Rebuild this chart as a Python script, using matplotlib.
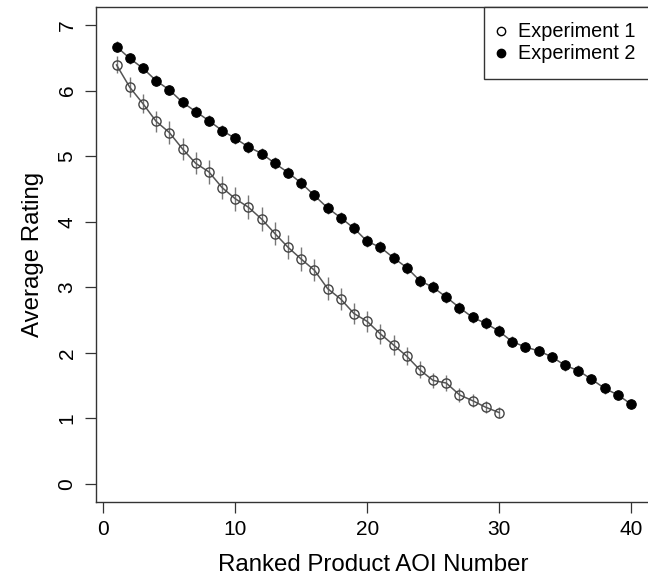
"""
Average rating by ranked product AOI number, two experiments.
"""
import matplotlib
matplotlib.use("Agg")
import matplotlib.pyplot as plt
from matplotlib.lines import Line2D

plt.rcParams['font.family'] = ['Liberation Sans', 'DejaVu Sans']

# Experiment 1 (open circles), AOI 1..30
exp1_rank = list(range(1, 31))
exp1_mean = [6.39, 6.05, 5.80, 5.53, 5.36, 5.11, 4.89, 4.76, 4.52, 4.35,
             4.22, 4.04, 3.82, 3.61, 3.43, 3.26, 2.98, 2.82, 2.60, 2.48,
             2.29, 2.12, 1.95, 1.74, 1.58, 1.54, 1.36, 1.27, 1.17, 1.09]
exp1_err = [0.13, 0.15, 0.15, 0.16, 0.17, 0.17, 0.17, 0.18, 0.18, 0.18,
            0.18, 0.18, 0.18, 0.18, 0.18, 0.17, 0.17, 0.17, 0.16, 0.16,
            0.15, 0.15, 0.14, 0.13, 0.12, 0.12, 0.11, 0.10, 0.09, 0.08]

# Experiment 2 (filled circles), AOI 1..40
exp2_rank = list(range(1, 41))
exp2_mean = [6.67, 6.49, 6.34, 6.15, 6.01, 5.82, 5.68, 5.54, 5.39, 5.27,
             5.14, 5.04, 4.89, 4.75, 4.59, 4.40, 4.21, 4.06, 3.90, 3.70,
             3.61, 3.45, 3.30, 3.10, 3.00, 2.85, 2.69, 2.54, 2.45, 2.33,
             2.17, 2.09, 2.03, 1.94, 1.81, 1.73, 1.60, 1.46, 1.36, 1.22]
exp2_err = [0.08] * 10 + [0.09] * 20 + [0.08] * 10

series_labels = ['Experiment 1', 'Experiment 2']
x_ticks = [0, 10, 20, 30, 40]
y_ticks = [0, 1, 2, 3, 4, 5, 6, 7]

fig = plt.figure(figsize=(6.48, 5.81), dpi=100)
# the original box runs a few pixels past the right edge of the image
ax = fig.add_axes([96 / 648, 1 - 502.4 / 581, (651.5 - 96) / 648, (502.4 - 6.6) / 581])

ax.errorbar(exp1_rank, exp1_mean, yerr=exp1_err, fmt='none', ecolor='#777777', elinewidth=1.0, capsize=0)
ax.errorbar(exp2_rank, exp2_mean, yerr=exp2_err, fmt='none', ecolor='#777777', elinewidth=1.0, capsize=0)
ax.plot(exp1_rank, exp1_mean, color='#555555', lw=1.1, marker='o', ms=6.6,
        mfc='none', mec='#444444', mew=1.0)
ax.plot(exp2_rank, exp2_mean, color='#555555', lw=1.1, marker='o', ms=6.8,
        mfc='black', mec='black', mew=0.8)

ax.set_xlim(-0.56, 41.56)
ax.set_ylim(-0.28, 7.28)
ax.set_xticks(x_ticks)
ax.set_yticks(y_ticks)
ax.tick_params(axis='both', direction='out', length=8, width=0.9, color='#333333', labelsize=15)
ax.tick_params(axis='x', pad=5)
ax.tick_params(axis='y', pad=6)
for lab in ax.get_yticklabels():
    lab.set_rotation(90)
    lab.set_va('center')
for s in ax.spines.values():
    s.set_color('#333333')
    s.set_linewidth(1.0)

ax.set_xlabel('Ranked Product AOI Number', fontsize=17.3, labelpad=10.5)
ax.set_ylabel('Average Rating', fontsize=17.3, labelpad=10)

handles = [
    Line2D([], [], ls='none', marker='o', ms=6.0, mfc='none', mec='black', mew=1.0),
    Line2D([], [], ls='none', marker='o', ms=6.0, mfc='black', mec='black'),
]
leg = ax.legend(handles, series_labels, loc='upper right', fontsize=14.3,
                frameon=True, fancybox=False, framealpha=1, edgecolor='#333333',
                borderaxespad=0, borderpad=0.8, handlelength=0.1,
                handletextpad=0.83, labelspacing=0.15)
leg.get_frame().set_linewidth(1.0)

fig.savefig('out.png', dpi=100)
